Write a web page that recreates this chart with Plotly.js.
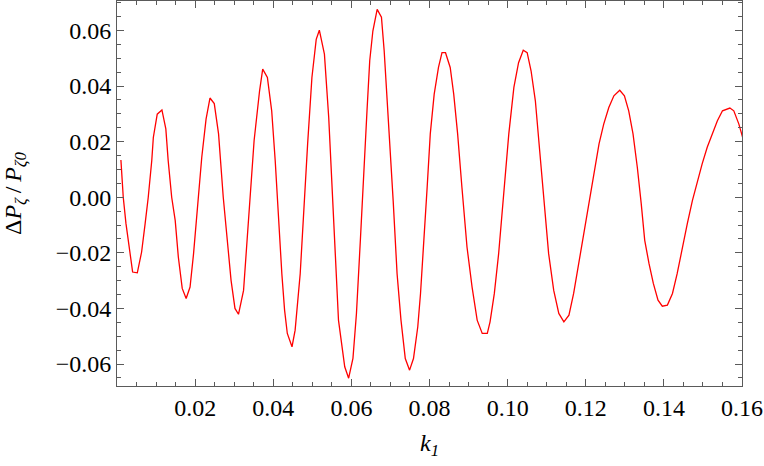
<!DOCTYPE html>
<html>
<head>
<meta charset="utf-8">
<script src="https://cdn.plot.ly/plotly-3.0.1.min.js"></script>
<style>html,body{margin:0;padding:0;background:#fff;}#chart{width:764px;height:466px;}</style>
</head>
<body>
<div id="chart"></div>
<script>
// k1 values (x) and ΔPζ/Pζ0 values (y)
const k1 = [
  0.0010,0.0016,0.0023,0.0032,0.0040,0.0052,0.0063,0.0072,0.0080,0.0089,
  0.0093,0.0103,0.0115,0.0125,0.0131,0.0140,0.0149,0.0157,0.0167,0.0177,
  0.0187,0.0196,0.0204,0.0208,0.0217,0.0228,0.0238,0.0249,0.0260,0.0272,
  0.0283,0.0292,0.0302,0.0311,0.0324,0.0332,0.0341,0.0351,0.0365,0.0373,
  0.0385,0.0396,0.0405,0.0413,0.0422,0.0429,0.0436,0.0448,0.0456,0.0469,
  0.0477,0.0488,0.0499,0.0510,0.0518,0.0531,0.0542,0.0550,0.0559,0.0567,
  0.0583,0.0593,0.0604,0.0613,0.0623,0.0631,0.0640,0.0647,0.0655,0.0666,
  0.0677,0.0684,0.0695,0.0707,0.0717,0.0727,0.0738,0.0749,0.0759,0.0770,
  0.0777,0.0785,0.0794,0.0802,0.0812,0.0823,0.0832,0.0841,0.0853,0.0862,
  0.0872,0.0883,0.0896,0.0909,0.0922,0.0935,0.0948,0.0955,0.0966,0.0977,
  0.0990,0.1003,0.1016,0.1028,0.1040,0.1050,0.1060,0.1071,0.1082,0.1093,
  0.1105,0.1118,0.1131,0.1144,0.1157,0.1169,0.1182,0.1195,0.1208,0.1221,
  0.1234,0.1246,0.1259,0.1272,0.1287,0.1299,0.1310,0.1321,0.1332,0.1342,
  0.1351,0.1362,0.1373,0.1385,0.1396,0.1409,0.1422,0.1434,0.1447,0.1460,
  0.1473,0.1486,0.1498,0.1511,0.1524,0.1537,0.1550,0.1569,0.1579,0.1592,
  0.1604
];
const dP = [
  0.0134,0.0000,-0.0095,-0.0191,-0.0269,-0.0272,-0.0197,-0.0095,0.0000,0.0132,
  0.0215,0.0299,0.0314,0.0246,0.0132,0.0000,-0.0083,-0.0215,-0.0328,-0.0364,
  -0.0323,-0.0203,-0.0072,0.0000,0.0144,0.0281,0.0357,0.0337,0.0228,0.0000,
  -0.0167,-0.0299,-0.0400,-0.0421,-0.0335,-0.0179,0.0000,0.0204,0.0383,0.0461,
  0.0431,0.0311,0.0132,-0.0072,-0.0275,-0.0406,-0.0490,-0.0538,-0.0478,-0.0275,
  -0.0072,0.0192,0.0431,0.0568,0.0601,0.0515,0.0287,0.0036,-0.0227,-0.0442,
  -0.0610,-0.0651,-0.0580,-0.0418,-0.0155,0.0084,0.0311,0.0491,0.0598,0.0676,
  0.0648,0.0526,0.0287,-0.0012,-0.0275,-0.0442,-0.0580,-0.0622,-0.0580,-0.0466,
  -0.0346,-0.0179,0.0036,0.0228,0.0371,0.0467,0.0520,0.0520,0.0467,0.0371,
  0.0228,0.0036,-0.0179,-0.0323,-0.0442,-0.0490,-0.0490,-0.0448,-0.0346,-0.0203,
  0.0012,0.0228,0.0395,0.0484,0.0529,0.0520,0.0455,0.0347,0.0168,-0.0012,
  -0.0203,-0.0335,-0.0418,-0.0448,-0.0424,-0.0346,-0.0239,-0.0131,-0.0012,0.0096,
  0.0192,0.0263,0.0323,0.0365,0.0385,0.0365,0.0311,0.0228,0.0108,-0.0023,
  -0.0155,-0.0239,-0.0310,-0.0370,-0.0392,-0.0388,-0.0346,-0.0275,-0.0179,-0.0095,
  -0.0012,0.0060,0.0120,0.0180,0.0228,0.0275,0.0311,0.0321,0.0311,0.0263,
  0.0204
];
const xTickVals = [0.02,0.04,0.06,0.08,0.10,0.12,0.14,0.16];
const xTickText = ["0.02","0.04","0.06","0.08","0.10","0.12","0.14","0.16"];
const yTickVals = [-0.06,-0.04,-0.02,0.00,0.02,0.04,0.06];
const yTickText = ["\u22120.06","\u22120.04","\u22120.02","0.00","0.02","0.04","0.06"];

const frameColor = "#5a5a5a";
const font = {family: "Liberation Serif", size: 24, color: "#000"};

const trace = {
  x: k1, y: dP, type: "scatter", mode: "lines",
  line: {color: "#ff0000", width: 1.3},
  hoverinfo: "skip"
};

const layout = {
  width: 764, height: 466,
  margin: {l: 117, r: 22, t: 1, b: 80},
  paper_bgcolor: "#fff", plot_bgcolor: "#fff",
  showlegend: false,
  font: font,
  xaxis: {
    range: [0, 0.16],
    tickmode: "array", tickvals: xTickVals, ticktext: xTickText,
    ticks: "inside", ticklen: 7, tickwidth: 1, tickcolor: frameColor,
    minor: {tickmode: "linear", tick0: 0, dtick: 0.005, ticks: "inside", ticklen: 4, tickcolor: frameColor, showgrid: false},
    showline: true, linecolor: frameColor, linewidth: 1, mirror: "ticks",
    showgrid: false, zeroline: false,
    tickfont: {family: "Liberation Serif", size: 24, color: "#000"},
    title: {text: "<i>k</i><sub><i>1</i></sub>", font: {family: "Liberation Serif", size: 24, color: "#000"}, standoff: 14}
  },
  yaxis: {
    range: [-0.0679, 0.0706],
    tickmode: "array", tickvals: yTickVals, ticktext: yTickText,
    ticks: "inside", ticklen: 7, tickwidth: 1, tickcolor: frameColor,
    minor: {tickmode: "linear", tick0: 0, dtick: 0.005, ticks: "inside", ticklen: 4, tickcolor: frameColor, showgrid: false},
    showline: true, linecolor: frameColor, linewidth: 1, mirror: "ticks",
    showgrid: false, zeroline: false,
    tickfont: {family: "Liberation Serif", size: 24, color: "#000"},
    title: {text: "\u0394<i>P</i><sub><i>\u03B6</i></sub>\u2009/\u2009<i>P</i><sub><i>\u03B60</i></sub>", font: {family: "Liberation Serif", size: 24, color: "#000"}, standoff: 28}
  }
};

Plotly.newPlot("chart", [trace], layout, {displayModeBar: false, staticPlot: true});
</script>
</body>
</html>
